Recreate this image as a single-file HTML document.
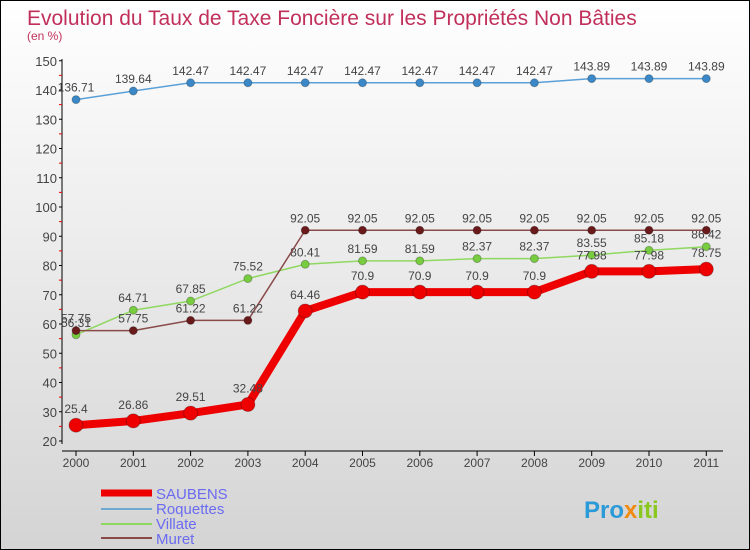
<!DOCTYPE html>
<html><head><meta charset="utf-8"><style>
body{margin:0}
#c{width:748px;height:548px;border:1px solid #000;background:linear-gradient(#fff,#d4d4d4);position:relative;font-family:"Liberation Sans",sans-serif;overflow:hidden}
</style></head><body>
<div id="c">
<svg id="s" width="748" height="548" style="position:absolute;left:0;top:0">
<text x="26" y="24" font-size="21" fill="#c0305a">Evolution du Taux de Taxe Foncière sur les Propriétés Non Bâties</text>
<text x="26" y="39" font-size="12" fill="#c0305a">(en %)</text>
<g id="axes"></g><g id="series"></g>
<g>
<line x1="100" y1="492" x2="151" y2="492" stroke="#e00" stroke-width="7"/>
<text x="155" y="498" font-size="15" fill="#6b6bf0">SAUBENS</text>
<line x1="100" y1="508" x2="151" y2="508" stroke="#6fa8d0" stroke-width="2"/>
<text x="155" y="513" font-size="15" fill="#6b6bf0">Roquettes</text>
<line x1="100" y1="523" x2="151" y2="523" stroke="#8fd860" stroke-width="2"/>
<text x="155" y="528" font-size="15" fill="#6b6bf0">Villate</text>
<line x1="100" y1="537" x2="151" y2="537" stroke="#8a4a4a" stroke-width="2"/>
<text x="155" y="543" font-size="15" fill="#6b6bf0">Muret</text>
</g>
<text x="583" y="517" font-size="24" font-weight="bold" fill="#2a9ad8">Pro<tspan fill="#f08a10">x</tspan><tspan fill="#8ac820">iti</tspan></text>
</svg>
</div>
<script>
const years=["2000","2001","2002","2003","2004","2005","2006","2007","2008","2009","2010","2011"];
const yTicks=[20,30,40,50,60,70,80,90,100,110,120,130,140,150];
const saubens=[25.4,26.86,29.51,32.48,64.46,70.9,70.9,70.9,70.9,77.98,77.98,78.75];
const roquettes=[136.71,139.64,142.47,142.47,142.47,142.47,142.47,142.47,142.47,143.89,143.89,143.89];
const villate=[56.31,64.71,67.85,75.52,80.41,81.59,81.59,82.37,82.37,83.55,85.18,86.42];
const muret=[57.75,57.75,61.22,61.22,92.05,92.05,92.05,92.05,92.05,92.05,92.05,92.05];
const NS="http://www.w3.org/2000/svg";
const X=i=>75+i*57.3, Y=v=>440-(v-20)*2.925;
function mk(t,a,p){const e=document.createElementNS(NS,t);for(const k in a)e.setAttribute(k,a[k]);p.appendChild(e);return e;}
const ax=document.getElementById('axes');
const yl=mk('line',{x1:61,y1:58,x2:61,y2:443,stroke:'#000'},ax);


const xl=mk('line',{x1:61,y1:450,x2:722,y2:450,stroke:'#000'},ax);


yTicks.forEach(v=>{mk('line',{x1:58,y1:Y(v),x2:61,y2:Y(v),stroke:'#000'},ax);
 if(v<150)mk('line',{x1:58,y1:Y(v+5),x2:61,y2:Y(v+5),stroke:'#e00'},ax);
 const t=mk('text',{x:56,y:Y(v)+5,'font-size':13,fill:'#444','text-anchor':'end'},ax);t.textContent=v;
 
 });
years.forEach((y,i)=>{mk('line',{x1:X(i),y1:450,x2:X(i),y2:455,stroke:'#000'},ax);
 const t=mk('text',{x:X(i),y:466,'font-size':12,fill:'#444','text-anchor':'middle'},ax);t.textContent=y;
 
 });
const sg=document.getElementById('series');
function draw(vals,name,col,dot,w,r,off){
 const g=mk('g',{},sg);
 
 
 mk('polyline',{points:vals.map((v,i)=>X(i)+','+Y(v)).join(' '),fill:'none',stroke:col,'stroke-width':w},g);
 vals.forEach((v,i)=>{const c=mk('circle',{cx:X(i),cy:Y(v),r:r,fill:dot,stroke:'rgba(0,0,0,0.25)'},g);
  
  
  const t=mk('text',{x:X(i),y:Y(v)-off,'font-size':12,fill:'#444','text-anchor':'middle'},g);t.textContent=v;
  
  });
}
draw(roquettes,'roquettes','#5aa0d8','#3a88c8',1.5,4,8);
draw(villate,'villate','#90d860','#78cc40',1.5,4,8);
draw(muret,'muret','#8a4a4a','#6a1a1a',1.5,4,8);
draw(saubens,'saubens','#ee0000','#ee0000',8,7,12);
</script>
</body></html>
